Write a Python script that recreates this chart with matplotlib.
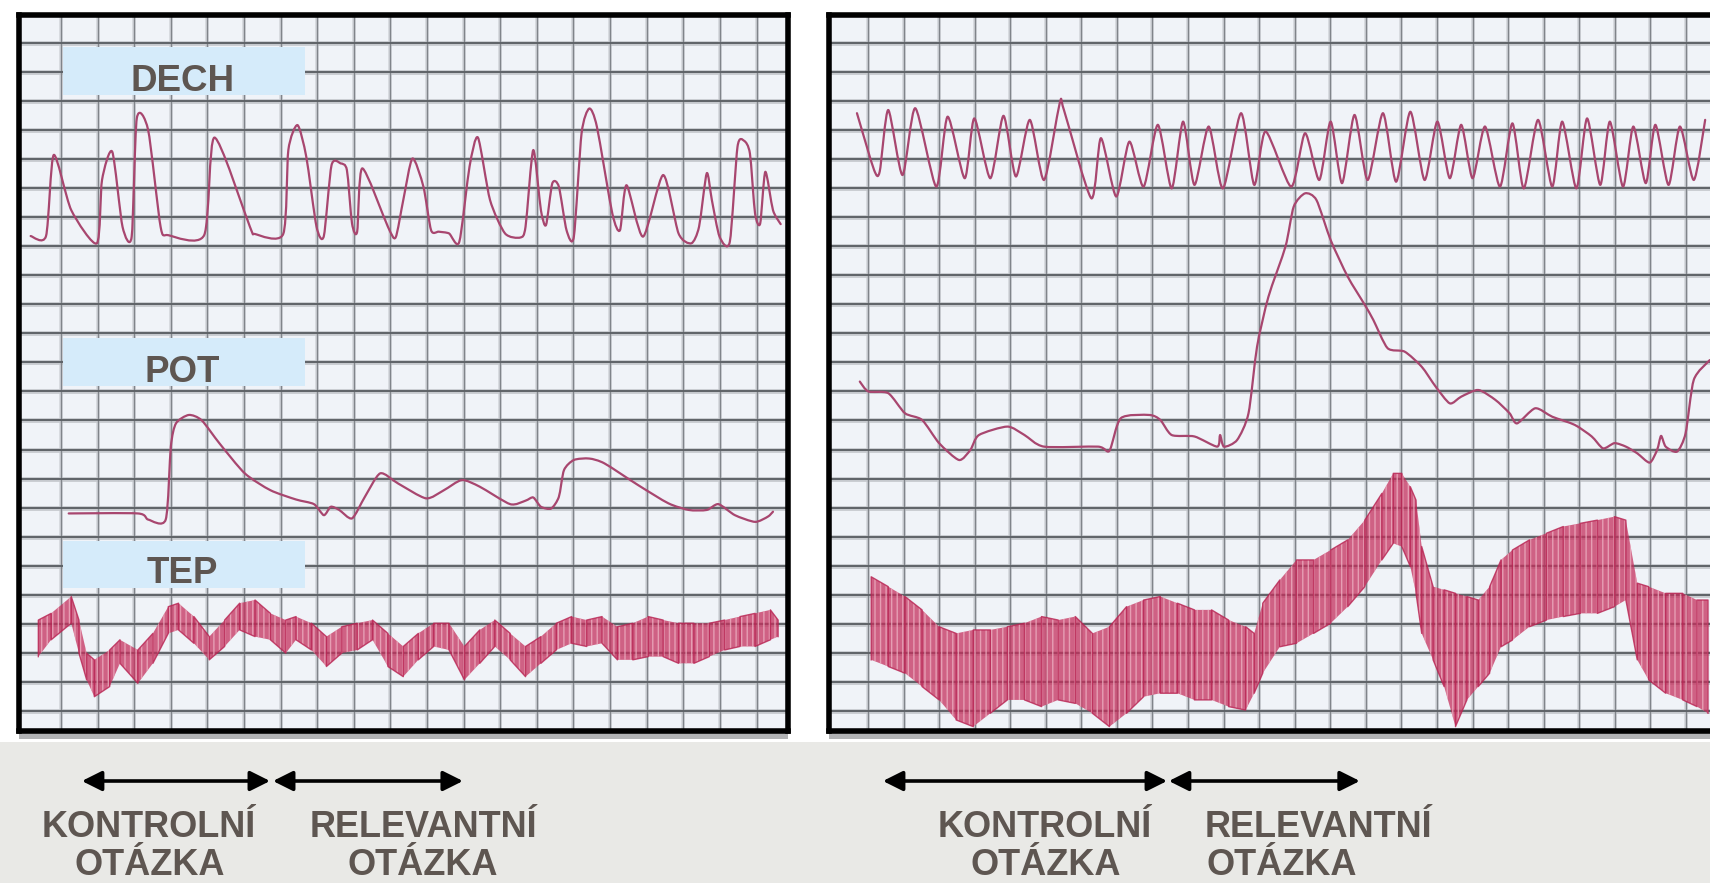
import matplotlib.pyplot as plt
from matplotlib.patches import Rectangle, PathPatch
from matplotlib.path import Path

plt.rcParams['font.family'] = ['Liberation Sans', 'DejaVu Sans']
plt.rcParams['hatch.linewidth'] = 1.0

# --- polygraph traces, x and y in grid cells ---
# left chart (kontrolní / relevantní otázka, first subject)
dech_l_x = [-0.83, -0.41, -0.20, 0.28, 0.98, 1.12, 1.40, 1.68, 1.93, 2.07, 2.38, 2.72, 2.93, 3.91, 4.19,
            5.16, 5.30, 6.07, 6.21, 6.46, 6.70, 6.98, 7.18, 7.39, 7.64, 7.81, 7.95, 8.09, 8.23, 8.93,
            9.14, 9.35, 9.60, 9.90, 10.11, 10.32, 10.60, 10.88, 11.16, 11.39, 11.72, 12.13, 12.55, 12.69,
            12.90, 13.11, 13.25, 13.42, 13.60, 13.81, 14.01, 14.22, 14.43, 14.64, 15.06, 15.27, 15.45,
            15.90, 16.45, 16.87, 17.22, 17.43, 17.64, 17.78, 17.99, 18.27, 18.48, 18.66, 18.82, 18.96,
            19.10, 19.24, 19.45, 19.66]
dech_l_y = [16.35, 16.35, 19.14, 17.24, 16.10, 18.28, 19.25, 16.67, 16.33, 20.40, 20.0, 16.67, 16.38, 16.38,
            19.74, 16.67, 16.42, 16.42, 19.31, 20.17, 19.08, 16.67, 16.35, 18.79, 18.85, 18.62, 16.78,
            16.50, 18.68, 16.67, 16.30, 17.59, 19.02, 18.05, 16.55, 16.50, 16.44, 16.15, 18.74, 19.74,
            17.59, 16.44, 16.30, 16.67, 19.31, 17.24, 16.73, 18.16, 18.05, 16.55, 16.33, 19.88, 20.74,
            20.11, 17.13, 16.55, 18.10, 16.33, 18.45, 16.44, 16.10, 16.67, 18.51, 17.59, 16.33, 16.15,
            19.42, 19.63, 19.19, 17.13, 16.78, 18.56, 17.24, 16.76]

pot_l_x = [0.21, 2.10, 2.38, 2.86, 3.00, 3.14, 3.49, 3.84, 4.33, 5.02, 5.72, 6.42, 6.91, 7.18, 7.37, 7.60,
           7.95, 8.30, 8.72, 9.21, 9.97, 10.46, 10.95, 11.44, 12.27, 12.69, 12.90, 13.11, 13.39, 13.60,
           13.74, 14.01, 14.43, 14.85, 15.76, 16.59, 17.15, 17.64, 17.96, 18.41, 18.96, 19.31, 19.45]
pot_l_y = [6.80, 6.80, 6.59, 6.59, 9.10, 9.90, 10.19, 10.01, 9.21, 8.18, 7.60, 7.28, 7.12, 6.74, 7.03, 6.92,
           6.63, 7.37, 8.18, 7.83, 7.32, 7.60, 7.95, 7.72, 7.12, 7.24, 7.35, 7.03, 6.97, 7.37, 8.29, 8.64,
           8.69, 8.52, 7.78, 7.15, 6.92, 6.92, 7.12, 6.74, 6.51, 6.69, 6.86]

tep_l_x = [-0.62, -0.27, 0.28, 0.49, 0.70, 0.91, 1.33, 1.61, 2.10, 2.51, 2.93, 3.21, 3.63, 4.05, 4.47, 4.88,
           5.30, 5.72, 6.14, 6.42, 6.84, 7.25, 7.67, 8.09, 8.51, 8.93, 9.35, 9.76, 10.18, 10.60, 11.02,
           11.44, 11.85, 12.27, 12.69, 13.11, 13.53, 13.95, 14.36, 14.78, 15.20, 15.62, 16.04, 16.45,
           16.87, 17.29, 17.71, 18.13, 18.55, 18.96, 19.38, 19.59]
tep_l_hi = [3.13, 3.36, 3.94, 3.13, 1.99, 1.76, 2.10, 2.45, 2.10, 2.67, 3.59, 3.71, 3.25, 2.56, 3.13, 3.71,
            3.82, 3.36, 3.13, 3.25, 3.02, 2.56, 2.90, 3.02, 3.13, 2.67, 2.22, 2.67, 3.02, 3.02, 2.22, 2.79,
            3.13, 2.67, 2.22, 2.56, 3.02, 3.25, 3.13, 3.25, 2.90, 3.02, 3.25, 3.13, 3.02, 3.02, 3.02, 3.13,
            3.25, 3.36, 3.48, 3.13]
tep_l_lo = [1.87, 2.45, 3.02, 1.99, 1.07, 0.49, 0.84, 1.64, 0.95, 1.64, 2.67, 2.79, 2.33, 1.76, 2.22, 2.79,
            2.56, 2.45, 1.99, 2.45, 2.10, 1.53, 1.99, 2.10, 2.45, 1.53, 1.18, 1.76, 2.22, 2.10, 1.07, 1.64,
            2.22, 1.76, 1.18, 1.64, 2.10, 2.33, 2.22, 2.33, 1.76, 1.76, 1.87, 1.87, 1.64, 1.64, 1.87, 2.10,
            2.22, 2.22, 2.45, 2.56]

# right chart (second subject)
dech_r_x = [-0.31, 0.17, 0.33, 0.57, 0.97, 1.33, 1.92, 2.24, 2.72, 2.99, 3.44, 3.81, 4.16, 4.55, 4.95, 5.39,
            5.51, 6.28, 6.55, 6.98, 7.35, 7.75, 8.15, 8.54, 8.86, 9.18, 9.58, 9.98, 10.49, 10.86, 11.18,
            11.90, 12.29, 12.69, 13.01, 13.33, 13.68, 14.05, 14.48, 14.85, 15.25, 15.65, 16.01, 16.36,
            16.68, 17.00, 17.35, 17.77, 18.12, 18.44, 18.84, 19.24, 19.52, 19.92, 20.22, 20.59, 20.86,
            21.23, 21.52, 21.87, 22.14, 22.51, 22.83, 23.22, 23.54]
dech_r_y = [20.58, 18.63, 18.57, 20.69, 18.45, 20.75, 18.05, 20.46, 18.34, 20.40, 18.34, 20.49, 18.40, 20.35,
            18.28, 20.92, 20.69, 17.65, 19.72, 17.71, 19.60, 18.05, 20.18, 17.99, 20.29, 18.11, 20.12,
            17.99, 20.58, 18.11, 19.95, 18.05, 19.89, 18.28, 20.29, 18.17, 20.52, 18.28, 20.58, 18.22,
            20.63, 18.28, 20.29, 18.34, 20.18, 18.34, 20.12, 18.05, 20.23, 17.99, 20.35, 18.05, 20.29,
            17.99, 20.40, 18.11, 20.29, 18.05, 20.12, 18.17, 20.18, 18.11, 20.12, 18.28, 20.35]

pot_r_x = [-0.23, 0.01, 0.57, 1.04, 1.52, 2.00, 2.56, 2.88, 3.12, 3.92, 4.40, 4.95, 6.47, 6.79, 7.11, 7.91,
           8.22, 8.54, 9.18, 9.82, 9.90, 10.01, 10.38, 10.70, 10.94, 11.26, 11.74, 11.97, 12.29, 12.61,
           13.01, 13.49, 13.97, 14.21, 14.61, 15.09, 15.57, 15.96, 16.36, 16.68, 17.16, 17.64, 18.04,
           18.25, 18.76, 19.24, 19.87, 20.35, 20.67, 20.99, 21.31, 21.63, 21.98, 22.19, 22.30, 22.43,
           22.75, 22.99, 23.22, 23.67]
pot_r_y = [11.34, 11.00, 10.94, 10.25, 10.02, 9.22, 8.64, 8.99, 9.50, 9.79, 9.50, 9.10, 9.10, 8.96, 10.08,
           10.19, 10.02, 9.50, 9.45, 9.10, 9.50, 9.10, 9.33, 10.25, 12.54, 14.26, 15.99, 17.36, 17.82,
           17.59, 16.21, 14.95, 13.98, 13.46, 12.49, 12.37, 11.85, 11.17, 10.59, 10.82, 11.05, 10.71,
           10.25, 9.90, 10.42, 10.13, 9.85, 9.45, 9.04, 9.22, 9.10, 8.87, 8.55, 8.99, 9.47, 9.10, 8.93,
           9.56, 11.40, 12.08]

tep_r_x = [0.09, 0.57, 1.04, 1.52, 2.00, 2.48, 2.96, 3.44, 3.92, 4.40, 4.88, 5.35, 5.83, 6.31, 6.79, 7.27,
           7.75, 8.22, 8.70, 9.18, 9.66, 10.14, 10.62, 10.86, 11.10, 11.58, 12.05, 12.53, 13.01, 13.49,
           13.97, 14.45, 14.77, 15.01, 15.25, 15.41, 15.57, 15.89, 16.20, 16.52, 16.84, 17.16, 17.48,
           17.80, 18.12, 18.60, 19.08, 19.55, 20.03, 20.51, 20.99, 21.31, 21.63, 21.95, 22.43, 22.91,
           23.31, 23.62]
tep_r_hi = [4.62, 4.28, 3.94, 3.48, 2.90, 2.67, 2.79, 2.79, 2.90, 3.02, 3.25, 3.13, 3.25, 2.67, 2.90, 3.59,
            3.82, 3.94, 3.71, 3.48, 3.48, 3.13, 2.90, 2.67, 3.71, 4.51, 5.20, 5.20, 5.54, 5.89, 6.57, 7.49,
            8.18, 8.18, 7.72, 7.26, 5.66, 4.28, 4.17, 4.05, 3.94, 3.82, 4.28, 5.20, 5.54, 5.89, 6.12, 6.35,
            6.46, 6.57, 6.69, 6.57, 4.40, 4.28, 4.05, 4.05, 3.82, 3.82]
tep_r_lo = [1.76, 1.53, 1.30, 0.84, 0.38, -0.31, -0.54, -0.08, 0.38, 0.38, 0.15, 0.38, 0.26, -0.08, -0.54,
            -0.08, 0.49, 0.61, 0.61, 0.38, 0.38, 0.15, 0.03, 0.61, 1.30, 2.21, 2.33, 2.67, 3.02, 3.59, 4.28,
            5.20, 5.77, 5.66, 4.97, 4.05, 2.67, 1.76, 0.84, -0.54, 0.38, 0.84, 1.30, 2.21, 2.44, 2.90, 3.13,
            3.25, 3.36, 3.36, 3.59, 3.82, 1.76, 1.07, 0.61, 0.38, 0.15, -0.08]

# question spans under each chart (grid cells)
kontrol_l = (0.57, 5.71)
relev_l = (5.79, 10.98)
kontrol_r = (0.42, 8.41)
relev_r = (8.46, 13.83)

trace_col = '#a8466f'
tep_col = '#c5305d'
text_col = '#5e5651'

W, H = 1710, 883
fig = plt.figure(figsize=(W / 100, H / 100), dpi=100)
fig.patch.set_facecolor('white')
fig.add_artist(Rectangle((0, 0), 1, (H - 742) / H, transform=fig.transFigure,
                         facecolor='#e9e9e6', edgecolor='none', zorder=-10))


def make_panel(left_px, right_px, xlim, nx):
    ax = fig.add_axes([left_px / W, (H - 731) / H, (right_px - left_px) / W, 716 / H])
    ax.set_facecolor('#f0f3f8')
    ax.set_xlim(*xlim)
    ax.set_ylim(-0.69, 23.96)
    ax.set_xticks([])
    ax.set_yticks([])
    for i in range(nx):
        ax.axvline(i, color='#d3d6db', lw=2.6, zorder=0.5)
        ax.axvline(i, color='#80848a', lw=1.0, zorder=0.6)
    for j in range(24):
        ax.axhline(j, color='#c6c9ce', lw=3.4, zorder=0.5)
        ax.axhline(j, color='#5f6368', lw=1.4, zorder=0.6)
    for s in ax.spines.values():
        s.set_linewidth(4)
        s.set_color('black')
    # shadow under the paper
    fig.add_artist(Rectangle((left_px / W, (H - 739) / H), (min(right_px, W) - left_px) / W, 7 / H,
                             transform=fig.transFigure, facecolor='#7d7f82', edgecolor='none',
                             alpha=0.6, zorder=-5))
    return ax


def pen_trace(ax, x, y):
    # pen line drawn as a smooth bezier path through the read points
    verts = [(x[0], y[0])]
    codes = [Path.MOVETO]
    n = len(x)
    k = 0.12
    for i in range(n - 1):
        x0, y0 = (x[i - 1], y[i - 1]) if i > 0 else (x[i], y[i])
        x3, y3 = (x[i + 2], y[i + 2]) if i + 2 < n else (x[i + 1], y[i + 1])
        c1 = (x[i] + k * (x[i + 1] - x0), y[i] + k * (y[i + 1] - y0))
        c2 = (x[i + 1] - k * (x3 - x[i]), y[i + 1] - k * (y3 - y[i]))
        verts += [c1, c2, (x[i + 1], y[i + 1])]
        codes += [Path.CURVE4] * 3
    ax.add_patch(PathPatch(Path(verts, codes), facecolor='none', edgecolor=trace_col,
                           lw=1.6, zorder=3, capstyle='round', joinstyle='round'))


def draw_tep(ax, x, lo, hi):
    ax.fill_between(x, lo, hi, facecolor=tep_col, edgecolor='#eeb3c4', hatch='|||',
                    linewidth=0, alpha=0.75, zorder=3)
    # zigzag through the read minima / maxima
    zx, zy = [], []
    for i in range(len(x)):
        zx += [x[i], x[i]]
        zy += [lo[i], hi[i]] if i % 2 == 0 else [hi[i], lo[i]]
    ax.plot(zx, zy, color='#b82352', lw=1.0, alpha=0.8, zorder=3)


def questions(ax, k_span, r_span, k_pos, r_pos):
    tr = ax.get_xaxis_transform()
    y_arrow = (102 - 152) / 716
    for a, b in (k_span, r_span):
        ax.annotate('', xy=(b, y_arrow), xytext=(a, y_arrow), xycoords=tr, textcoords=tr,
                    annotation_clip=False,
                    arrowprops=dict(arrowstyle='<|-|>,head_length=0.6,head_width=0.3',
                                    color='black', lw=2.6, mutation_scale=20,
                                    shrinkA=0, shrinkB=0))
    y1 = (46 - 152) / 716
    y2 = (8 - 152) / 716
    for (x1, x2), word in ((k_pos, 'KONTROLNÍ'), (r_pos, 'RELEVANTNÍ')):
        ax.text(x1, y1, word, transform=tr, ha='center', va='baseline', fontsize=26,
                fontweight='bold', color=text_col, clip_on=False)
        ax.text(x2, y2, 'OTÁZKA', transform=tr, ha='center', va='baseline', fontsize=26,
                fontweight='bold', color=text_col, clip_on=False)


# left chart
ax1 = make_panel(19, 788, (-1.148, 19.86), 20)
for (y0, y1, yb, label) in ((21.2, 22.86, 21.34, 'DECH'), (11.19, 12.84, 11.33, 'POT'),
                            (4.23, 5.85, 4.41, 'TEP')):
    ax1.add_patch(Rectangle((0.05, y0), 6.62, y1 - y0, facecolor='#d5ebfa', edgecolor='none', zorder=1))
    ax1.text(3.32, yb, label, ha='center', va='baseline', fontsize=26.5, fontweight='bold',
             color=text_col, zorder=2)
pen_trace(ax1, dech_l_x, dech_l_y)
pen_trace(ax1, pot_l_x, pot_l_y)
draw_tep(ax1, tep_l_x, tep_l_lo, tep_l_hi)
questions(ax1, kontrol_l, relev_l, (2.40, 2.43), (9.89, 9.89))

# right chart, runs off the right edge
ax2 = make_panel(828.5, 1745, (-1.11, 24.66), 25)
pen_trace(ax2, dech_r_x, dech_r_y)
pen_trace(ax2, pot_r_x, pot_r_y)
draw_tep(ax2, tep_r_x, tep_r_lo, tep_r_hi)
questions(ax2, kontrol_r, relev_r, (4.98, 5.0), (12.68, 11.64))

fig.savefig('out.png', dpi=100)
